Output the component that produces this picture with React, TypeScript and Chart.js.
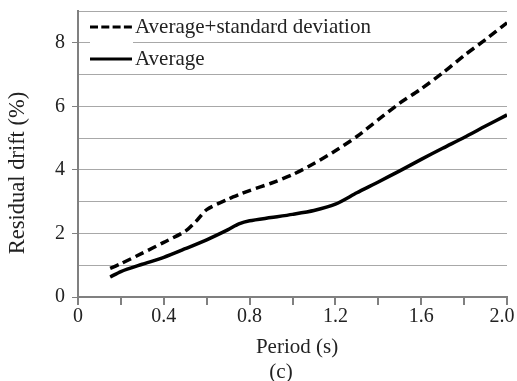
import React, { useEffect, useRef } from "react";
import { Chart, registerables } from "chart.js";

Chart.register(...registerables);

const periodsStd = [0.15, 0.2, 0.3, 0.4, 0.5, 0.55, 0.6, 0.7, 0.75, 0.8, 0.9, 1.0, 1.1, 1.2, 1.3, 1.4, 1.5, 1.6, 1.7, 1.8, 1.9, 2.0];
const avgPlusStd = [0.9, 1.05, 1.38, 1.72, 2.07, 2.38, 2.75, 3.08, 3.22, 3.35, 3.58, 3.85, 4.2, 4.6, 5.05, 5.58, 6.1, 6.55, 7.05, 7.6, 8.1, 8.63];
const periodsAvg = [0.15, 0.2, 0.3, 0.4, 0.5, 0.6, 0.7, 0.75, 0.8, 0.9, 1.0, 1.1, 1.2, 1.3, 1.4, 1.5, 1.6, 1.7, 1.8, 1.9, 2.0];
const average = [0.63, 0.8, 1.03, 1.25, 1.52, 1.8, 2.12, 2.3, 2.4, 2.5, 2.6, 2.72, 2.92, 3.28, 3.62, 3.97, 4.33, 4.68, 5.02, 5.38, 5.73];
const seriesLabels = ["Average+standard deviation", "Average"];
const xTitle = "Period (s)";
const caption = "(c)";
const yTitle = "Residual drift (%)";

const FONT = "'Liberation Serif', 'Times New Roman', serif";

const decorPlugin = {
  id: "decor",
  afterDraw(chart: any) {
    const ctx = chart.ctx;
    const area = chart.chartArea;
    const x0 = area.left + 12;
    const x1 = area.left + 54;
    ctx.save();
    ctx.fillStyle = "#ffffff";
    ctx.fillRect(x0, area.top + 3, x1 - x0 + 1, 56);
    chart.data.datasets.forEach((ds: any, i: number) => {
      const y = area.top + 16 + i * 32;
      ctx.beginPath();
      ctx.setLineDash(ds.borderDash && ds.borderDash.length ? [8, 3.3] : []);
      ctx.strokeStyle = ds.borderColor;
      ctx.lineWidth = 3.2;
      ctx.moveTo(x0, y);
      ctx.lineTo(x1, y);
      ctx.stroke();
      ctx.setLineDash([]);
      ctx.fillStyle = "#222";
      ctx.font = "21px " + FONT;
      ctx.textBaseline = "middle";
      ctx.textAlign = "left";
      ctx.fillText(ds.label, x1 + 3, y);
    });
    // axis titles
    ctx.fillStyle = "#222";
    ctx.textAlign = "center";
    ctx.textBaseline = "middle";
    ctx.font = "21px " + FONT;
    ctx.fillText(xTitle, area.left + 219, 347);
    ctx.fillText(caption, area.left + 203, 372);
    ctx.translate(18, 173);
    ctx.rotate(-Math.PI / 2);
    ctx.font = "22.5px " + FONT;
    ctx.fillText(yTitle, 0, 0);
    ctx.restore();
  },
};

export default function App() {
  const ref = useRef<HTMLCanvasElement>(null);
  useEffect(() => {
    if (!ref.current) return;
    const chart = new Chart(ref.current, {
      type: "line",
      data: {
        datasets: [
          {
            label: seriesLabels[0],
            data: periodsStd.map((p, i) => ({ x: p, y: avgPlusStd[i] })),
            borderColor: "#000",
            borderWidth: 3.5,
            borderDash: [9, 5],
            pointRadius: 0,
            tension: 0.25,
            fill: false,
          },
          {
            label: seriesLabels[1],
            data: periodsAvg.map((p, i) => ({ x: p, y: average[i] })),
            borderColor: "#000",
            borderWidth: 3.5,
            pointRadius: 0,
            tension: 0.25,
            fill: false,
          },
        ],
      },
      options: {
        animation: false,
        responsive: false,
        maintainAspectRatio: false,
        layout: { padding: { top: 11, right: 10, left: 0, bottom: 0 } },
        plugins: { legend: { display: false }, tooltip: { enabled: false } },
        scales: {
          x: {
            type: "linear",
            min: 0,
            max: 2,
            border: { color: "#808080", width: 2 },
            grid: { drawOnChartArea: false, drawTicks: true, tickLength: 8, color: "#808080", lineWidth: 2 },
            ticks: {
              stepSize: 0.2,
              autoSkip: false,
              maxRotation: 0,
              padding: 0,
              color: "#222",
              font: { family: FONT, size: 20 },
              callback: (v: any, i: number) =>
                i % 2 === 0 ? (v === 0 ? "0" : Number(v) >= 2 ? Number(v).toFixed(1) + "\u00a0\u00a0" : Number(v).toFixed(1)) : "",
            },
            title: { display: false },
            afterFit: (s: any) => {
              s.height = 84;
              s.paddingLeft = 0;
              s.paddingRight = 0;
            },
          },
          y: {
            min: 0,
            max: 9,
            border: { color: "#808080", width: 2 },
            grid: {
              drawOnChartArea: true,
              drawTicks: true,
              tickLength: 6,
              color: (c: any) => (c.tick && c.tick.value === 0 ? "rgba(0,0,0,0)" : "#a8a8a8"),
              tickColor: (c: any) => (c.tick && c.tick.value % 2 === 0 ? "#808080" : "rgba(0,0,0,0)"),
              lineWidth: 1,
              borderDash: [1, 1],
            } as any,
            ticks: {
              stepSize: 1,
              autoSkip: false,
              padding: 7,
              color: "#222",
              font: { family: FONT, size: 20 },
              callback: (v: any) => (Number(v) % 2 === 0 ? String(v) : ""),
            },
            title: { display: false },
            afterFit: (s: any) => {
              s.width = 78;
              s.paddingTop = 0;
              s.paddingBottom = 0;
            },
          },
        },
      } as any,
      plugins: [decorPlugin],
    });
    return () => chart.destroy();
  }, []);
  return (
    <div style={{ position: "absolute", left: 0, top: 0, width: 517, height: 381, background: "#fff" }}>
      <canvas ref={ref} width={517} height={381} style={{ display: "block" }} />
    </div>
  );
}
